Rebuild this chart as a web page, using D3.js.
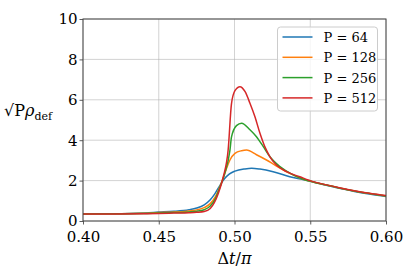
<!DOCTYPE html>
<html>
<head>
<meta charset="utf-8">
<script src="https://cdn.jsdelivr.net/npm/d3@7"></script>
<style>
  body { margin: 0; background: #fff; }
</style>
</head>
<body>
<div id="chart"></div>
<script>
// tick values
var xTicks = [0.40, 0.45, 0.50, 0.55, 0.60];
var yTicks = [0, 2, 4, 6, 8, 10];

// series labels
var labels = ["P = 64", "P = 128", "P = 256", "P = 512"];
var colors = ["#1f77b4", "#ff7f0e", "#2ca02c", "#d62728"];

// curves: [dt/pi, sqrt(P) rho_def]
var p64 = [
  [0.40, 0.35], [0.42, 0.36], [0.44, 0.40], [0.45, 0.44], [0.46, 0.48],
  [0.47, 0.56], [0.475, 0.64], [0.48, 0.80], [0.484, 1.05], [0.487, 1.34],
  [0.4905, 1.78], [0.4935, 2.10], [0.4965, 2.32], [0.5003, 2.47], [0.5069, 2.58],
  [0.5113, 2.61], [0.5168, 2.57], [0.5255, 2.44], [0.5365, 2.19], [0.545, 2.05],
  [0.552, 1.93], [0.56, 1.78], [0.57, 1.61], [0.58, 1.45], [0.59, 1.32], [0.60, 1.21]
];
var p128 = [
  [0.40, 0.35], [0.42, 0.36], [0.44, 0.38], [0.45, 0.42], [0.46, 0.44],
  [0.47, 0.50], [0.475, 0.55], [0.48, 0.66], [0.484, 0.86], [0.4875, 1.22],
  [0.4915, 1.92], [0.4945, 2.55], [0.497, 3.02], [0.5003, 3.35], [0.5047, 3.48],
  [0.508, 3.51], [0.5145, 3.28], [0.5211, 3.02], [0.5277, 2.72], [0.5365, 2.36],
  [0.545, 2.08], [0.552, 1.93], [0.56, 1.79], [0.57, 1.62], [0.58, 1.47],
  [0.59, 1.35], [0.60, 1.24]
];
var p256 = [
  [0.40, 0.35], [0.42, 0.36], [0.44, 0.37], [0.45, 0.40], [0.46, 0.42],
  [0.47, 0.45], [0.475, 0.48], [0.48, 0.56], [0.484, 0.74], [0.4875, 1.12],
  [0.4904, 1.68], [0.4937, 2.38], [0.497, 3.51], [0.498, 4.15], [0.5013, 4.72],
  [0.5047, 4.84], [0.5102, 4.52], [0.5145, 4.17], [0.519, 3.68], [0.5234, 3.18],
  [0.53, 2.69], [0.5387, 2.28], [0.545, 2.08], [0.552, 1.93], [0.56, 1.79],
  [0.57, 1.62], [0.58, 1.47], [0.59, 1.35], [0.60, 1.24]
];
var p512 = [
  [0.40, 0.35], [0.42, 0.35], [0.44, 0.36], [0.45, 0.37], [0.46, 0.39],
  [0.47, 0.41], [0.475, 0.43], [0.48, 0.47], [0.484, 0.62], [0.4893, 1.36],
  [0.4926, 2.19], [0.4958, 3.51], [0.498, 5.8], [0.5003, 6.45], [0.5036, 6.65],
  [0.507, 6.4], [0.5102, 5.83], [0.5135, 5.16], [0.5168, 4.34], [0.52, 3.68],
  [0.5234, 3.18], [0.5277, 2.77], [0.5344, 2.44], [0.5431, 2.19], [0.5519, 1.95],
  [0.56, 1.80], [0.57, 1.63], [0.58, 1.48], [0.59, 1.36], [0.60, 1.26]
];
var series = [p64, p128, p256, p512];

var serif = "DejaVu Serif";

var margin = {top: 19, right: 29, bottom: 56, left: 83},
    width = 415 - margin.left - margin.right,
    height = 277 - margin.top - margin.bottom;

var svg = d3.select("#chart")
  .append("svg")
    .attr("width", 415)
    .attr("height", 277)
  .append("g")
    .attr("transform", "translate(" + margin.left + "," + margin.top + ")");

var x = d3.scaleLinear().domain([0.40, 0.60]).range([0, width]);
var y = d3.scaleLinear().domain([0, 10]).range([height, 0]);

// grid
svg.append("g")
  .selectAll("line")
  .data(xTicks)
  .enter().append("line")
    .attr("x1", function(d) { return x(d); })
    .attr("x2", function(d) { return x(d); })
    .attr("y1", 0).attr("y2", height)
    .attr("stroke", "#b0b0b0").attr("stroke-opacity", 0.7).attr("stroke-width", 0.8);
svg.append("g")
  .selectAll("line")
  .data(yTicks)
  .enter().append("line")
    .attr("y1", function(d) { return y(d); })
    .attr("y2", function(d) { return y(d); })
    .attr("x1", 0).attr("x2", width)
    .attr("stroke", "#b0b0b0").attr("stroke-opacity", 0.7).attr("stroke-width", 0.8);

// lines
var line = d3.line()
  .x(function(d) { return x(d[0]); })
  .y(function(d) { return y(d[1]); })
  .curve(d3.curveMonotoneX);

svg.append("g")
  .selectAll("path")
  .data(series)
  .enter().append("path")
    .attr("d", line)
    .attr("fill", "none")
    .attr("stroke", function(d, i) { return colors[i]; })
    .attr("stroke-width", 1.5);

// axes
var xAxis = d3.axisBottom(x).tickValues(xTicks).tickFormat(d3.format(".2f")).tickSize(3.5).tickPadding(2);
var yAxis = d3.axisLeft(y).tickValues(yTicks).tickFormat(d3.format("d")).tickSize(3.5).tickPadding(2);

var gx = svg.append("g").attr("transform", "translate(0," + height + ")").call(xAxis);
var gy = svg.append("g").call(yAxis);
[gx, gy].forEach(function(g) {
  g.attr("font-family", serif).attr("font-size", 15);
  g.select(".domain").remove();
  g.selectAll("line").attr("stroke", "#333").attr("stroke-width", 0.8);
  g.selectAll("text").attr("fill", "#000");
});
gx.selectAll("text").attr("dy", "1.05em");

// frame
svg.append("rect")
  .attr("width", width).attr("height", height)
  .attr("fill", "none").attr("stroke", "#444").attr("stroke-width", 1);

// axis labels
var yl = svg.append("text")
  .attr("x", -79).attr("y", 97)
  .attr("font-family", serif)
  .attr("font-size", 16);
yl.append("tspan").text("\u221A");
yl.append("tspan").text("P");
yl.append("tspan").attr("font-style", "italic").text("\u03C1");
yl.append("tspan").attr("dy", 4).attr("font-size", 11).text("def");

var xl = svg.append("text")
  .attr("x", width / 2).attr("y", height + 43)
  .attr("text-anchor", "middle")
  .attr("font-family", serif)
  .attr("font-size", 16);
xl.append("tspan").text("\u0394");
xl.append("tspan").attr("font-style", "italic").text("t");
xl.append("tspan").text("/");
xl.append("tspan").attr("font-style", "italic").text("\u03C0");

// legend
var lg = svg.append("g").attr("transform", "translate(" + (x(0.5) + 43) + ",8)");
lg.append("rect")
  .attr("width", 100).attr("height", 84).attr("rx", 3)
  .attr("fill", "#fff").attr("fill-opacity", 0.8)
  .attr("stroke", "#ccc").attr("stroke-width", 1);
labels.forEach(function(lab, i) {
  var row = lg.append("g").attr("transform", "translate(0," + (10 + i * 20.3) + ")");
  row.append("line")
    .attr("x1", 5).attr("x2", 35)
    .attr("stroke", colors[i]).attr("stroke-width", 1.5);
  row.append("text")
    .attr("x", 46).attr("y", 5)
    .attr("font-family", serif)
    .attr("font-size", 13)
    .text(lab);
});
</script>
</body>
</html>
